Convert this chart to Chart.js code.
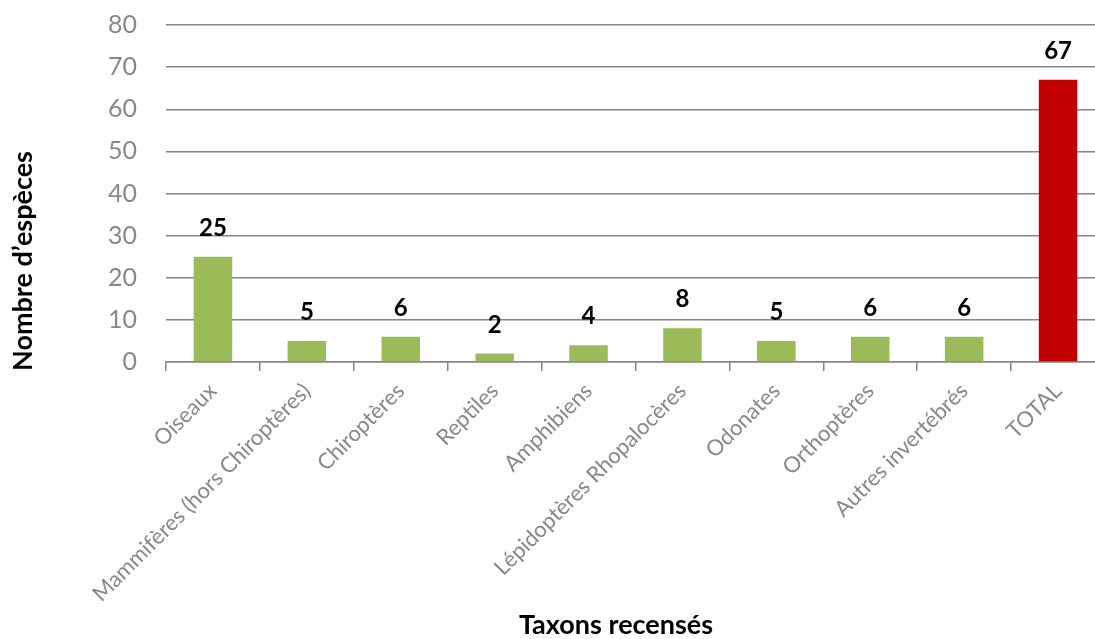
<!DOCTYPE html>
<html>
<head>
<meta charset="utf-8">
<script src="https://cdn.jsdelivr.net/npm/chart.js@4"></script>
<style>
  html, body { margin: 0; padding: 0; background: #fff; overflow: hidden; }
  #wrap { width: 1105px; height: 639px; position: relative; }
</style>
</head>
<body>
<div id="wrap"><canvas id="chart"></canvas></div>
<script>
// Taxa counted
const taxons = ['Oiseaux', 'Mammifères (hors Chiroptères)', 'Chiroptères', 'Reptiles', 'Amphibiens',
    'Lépidoptères Rhopalocères', 'Odonates', 'Orthoptères', 'Autres invertébrés', 'TOTAL']
// Number of species per taxon
const nbEspeces = [25, 5, 6, 2, 4, 8, 5, 6, 6, 67]
// Y axis ticks
const yTicks = [0, 10, 20, 30, 40, 50, 60, 70, 80]

const yTitle = 'Nombre d\u2019espèces'
const xTitle = 'Taxons recensés'

const GREEN = '#9BBB59'
const RED = '#C00000'
const GRID = '#868686'
const FONT = 'Lato, "Open Sans", sans-serif'

// draws the value over every bar
const valueLabels = {
    id: 'valueLabels',
    afterDatasetsDraw(chart) {
        const ctx = chart.ctx
        const meta = chart.getDatasetMeta(0)
        ctx.save()
        ctx.font = 'bold 24px ' + FONT
        ctx.fillStyle = '#000'
        ctx.textAlign = 'center'
        ctx.textBaseline = 'alphabetic'
        meta.data.forEach((bar, i) => {
            ctx.fillText(chart.data.datasets[0].data[i], bar.x, bar.y - 21)
        })
        ctx.restore()
    }
}

// axis titles, placed where the original has them
const axisTitles = {
    id: 'axisTitles',
    afterDraw(chart) {
        const ctx = chart.ctx
        ctx.save()
        ctx.font = 'bold 27px ' + FONT
        ctx.fillStyle = '#000'
        ctx.textAlign = 'center'
        ctx.textBaseline = 'middle'
        ctx.fillText(xTitle, 616, 625)
        ctx.translate(23, 261)
        ctx.rotate(-Math.PI / 2)
        ctx.fillText(yTitle, 0, 0)
        ctx.restore()
    }
}

new Chart(document.getElementById('chart'), {
    type: 'bar',
    data: {
        labels: taxons,
        datasets: [{
            data: nbEspeces,
            backgroundColor: ctx => ctx.dataIndex === taxons.length - 1 ? RED : GREEN,
            borderWidth: 0,
            categoryPercentage: 1,
            barPercentage: 0.41
        }]
    },
    options: {
        responsive: true,
        maintainAspectRatio: false,
        animation: false,
        layout: { padding: { top: 25, right: 0, left: 0, bottom: 0 } },
        plugins: {
            legend: { display: false },
            tooltip: { enabled: false }
        },
        scales: {
            x: {
                afterFit: s => {
                    s.height = 639 - 362
                    s.paddingLeft = 0
                    s.paddingRight = 0
                },
                border: { display: true, color: GRID, width: 1.5 },
                grid: { display: true, drawOnChartArea: false, drawTicks: true, tickLength: 9, color: GRID, lineWidth: 1.5 },
                ticks: {
                    color: '#888888',
                    font: { family: FONT, size: 22 },
                    minRotation: 45,
                    maxRotation: 45,
                    autoSkip: false,
                    padding: 7
                }
            },
            y: {
                min: 0,
                max: 80,
                afterFit: s => {
                    s.width = 166
                    s.paddingTop = 0
                    s.paddingBottom = 0
                },
                afterBuildTicks: s => { s.ticks = yTicks.map(v => ({ value: v })) },
                border: { display: false },
                grid: { color: GRID, lineWidth: 1.5, drawTicks: false, tickLength: 0 },
                ticks: {
                    color: '#888888',
                    font: { family: FONT, size: 25 },
                    padding: 29
                }
            }
        }
    },
    plugins: [valueLabels, axisTitles]
})
</script>
</body>
</html>
